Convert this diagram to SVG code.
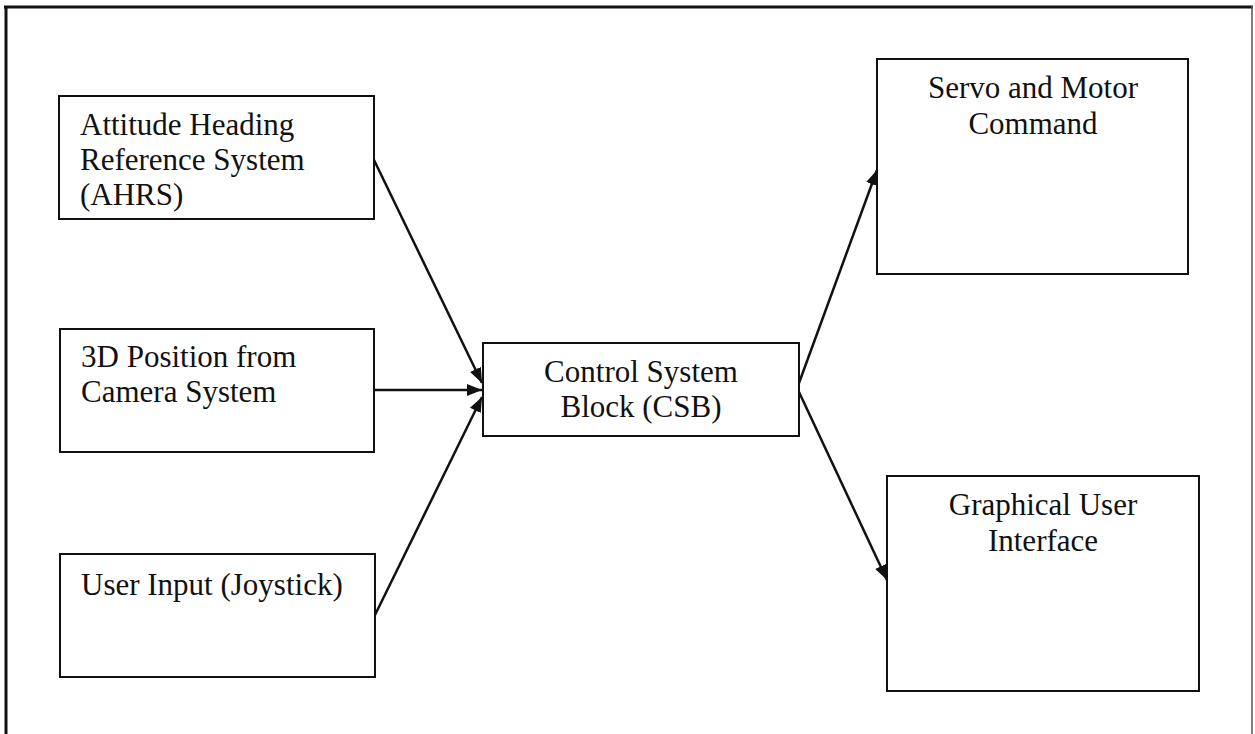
<svg xmlns="http://www.w3.org/2000/svg" width="1255" height="734" viewBox="0 0 1255 734">
  <defs>
    <style>
      .box { fill: #ffffff; stroke: #111111; stroke-width: 2; }
      .lbl { font-family: "Liberation Serif", "Times New Roman", serif; font-size: 31px; fill: #111111; }
      .mid { text-anchor: middle; }
      .conn { stroke: #111111; stroke-width: 2.5; fill: none; marker-end: url(#arrow); }
    </style>
    <marker id="arrow" markerUnits="userSpaceOnUse" markerWidth="18" markerHeight="14" refX="15" refY="6" orient="auto">
      <path d="M0,0 L15,6 L0,12 z" fill="#111111"/>
    </marker>
  </defs>
  <rect x="0" y="0" width="1255" height="734" fill="#ffffff"/>
  <g id="frame">
    <line x1="4" y1="7" x2="1253" y2="7" stroke="#111111" stroke-width="3"/>
    <line x1="6" y1="6" x2="6" y2="734" stroke="#111111" stroke-width="3"/>
    <line x1="1252" y1="6" x2="1252" y2="734" stroke="#555555" stroke-width="1.5"/>
  </g>
  <g id="ahrs">
    <rect class="box" x="59" y="96" width="315" height="123"/>
    <text class="lbl" x="80" y="135">Attitude Heading</text>
    <text class="lbl" x="80" y="170">Reference System</text>
    <text class="lbl" x="80" y="205">(AHRS)</text>
  </g>
  <g id="camera">
    <rect class="box" x="60" y="329" width="314" height="123"/>
    <text class="lbl" x="81" y="367">3D Position from</text>
    <text class="lbl" x="81" y="402">Camera System</text>
  </g>
  <g id="joystick">
    <rect class="box" x="60" y="554" width="315" height="123"/>
    <text class="lbl" x="81" y="595">User Input (Joystick)</text>
  </g>
  <g id="csb">
    <rect class="box" x="483" y="343" width="316" height="93"/>
    <text class="lbl mid" x="641" y="382">Control System</text>
    <text class="lbl mid" x="641" y="417">Block (CSB)</text>
  </g>
  <g id="servo">
    <rect class="box" x="877" y="59" width="311" height="215"/>
    <text class="lbl mid" x="1033" y="98">Servo and Motor</text>
    <text class="lbl mid" x="1033" y="134">Command</text>
  </g>
  <g id="gui">
    <rect class="box" x="887" y="476" width="312" height="215"/>
    <text class="lbl mid" x="1043" y="515">Graphical User</text>
    <text class="lbl mid" x="1043" y="551">Interface</text>
  </g>
  <g id="connectors">
    <line class="conn" x1="374" y1="160" x2="482" y2="383"/>
    <line class="conn" x1="374" y1="390" x2="482" y2="390"/>
    <line class="conn" x1="375" y1="615" x2="482" y2="397"/>
    <line class="conn" x1="799" y1="383" x2="877" y2="170"/>
    <line class="conn" x1="799" y1="392" x2="887" y2="580"/>
  </g>
</svg>
